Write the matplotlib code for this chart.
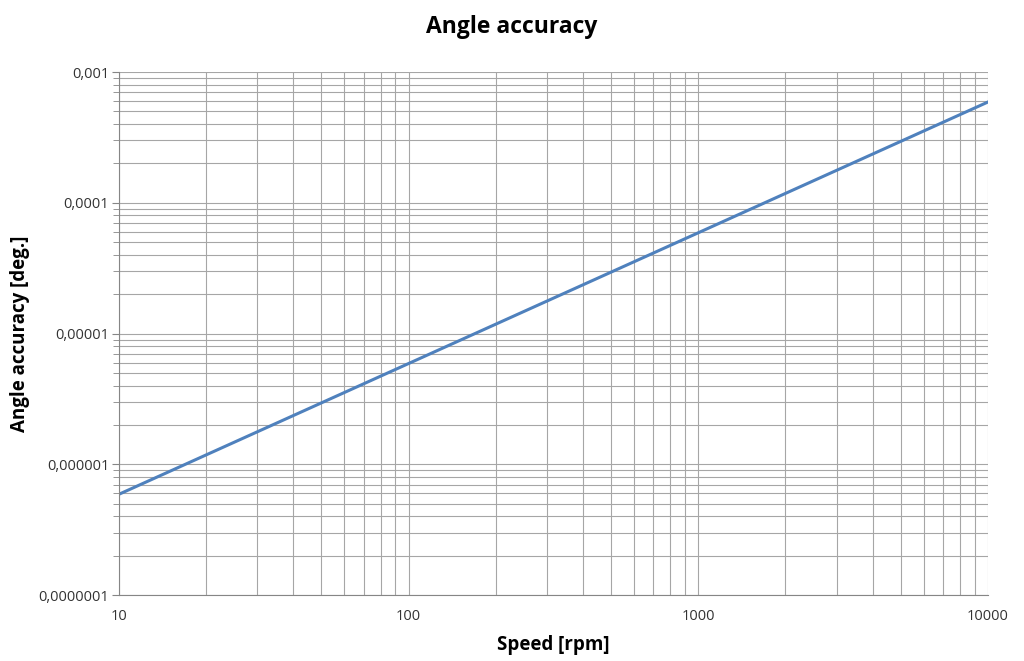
import matplotlib.pyplot as plt
from matplotlib.ticker import FixedLocator, NullFormatter

speed = [10, 100, 1000, 10000]
accuracy = [5.9e-7, 5.9e-6, 5.9e-5, 5.9e-4]

x_ticks = [10, 100, 1000, 10000]
x_labels = ['10', '100', '1000', '10000']
y_ticks = [1e-7, 1e-6, 1e-5, 1e-4, 1e-3]
y_labels = ['0,0000001', '0,000001', '0,00001', '0,0001', '0,001']

plt.rcParams['font.family'] = ['Open Sans', 'DejaVu Sans']

fig = plt.figure(figsize=(10.24, 6.61), dpi=100)
ax = fig.add_axes([0.1162, 0.0998, 0.8486, 0.7912])

ax.plot(speed, accuracy, color='#4F81BD', linewidth=2.2)
ax.set_xscale('log')
ax.set_yscale('log')
ax.set_xlim(10, 10000)
ax.set_ylim(1e-7, 1e-3)

ax.xaxis.set_major_locator(FixedLocator(x_ticks))
ax.set_xticklabels(x_labels)
ax.yaxis.set_major_locator(FixedLocator(y_ticks))
ax.set_yticklabels(y_labels)
ax.xaxis.set_minor_formatter(NullFormatter())
ax.yaxis.set_minor_formatter(NullFormatter())

ax.grid(True, which='both', color='#a6a6a6', linewidth=0.8)
ax.set_axisbelow(True)
for side in ['top', 'right']:
    ax.spines[side].set_visible(False)
ax.spines['left'].set_color('#868686')
ax.spines['bottom'].set_color('#868686')
ax.tick_params(axis='x', which='both', length=0, pad=10, labelsize=10.5, colors='#333333')
ax.tick_params(axis='y', which='major', length=5, color='#868686', labelsize=10.5, labelcolor='#333333', pad=2)
ax.tick_params(axis='y', which='minor', length=4, color='#868686')

fig.text(0.5, 0.959, 'Angle accuracy', fontsize=16.5, fontweight='bold', ha='center', va='center')
ax.set_xlabel('Speed [rpm]', fontsize=13.5, fontweight='bold', labelpad=8)
ax.set_ylabel('Angle accuracy [deg.]', fontsize=13.5, fontweight='bold', labelpad=6)

fig.savefig('out.png', dpi=100)
